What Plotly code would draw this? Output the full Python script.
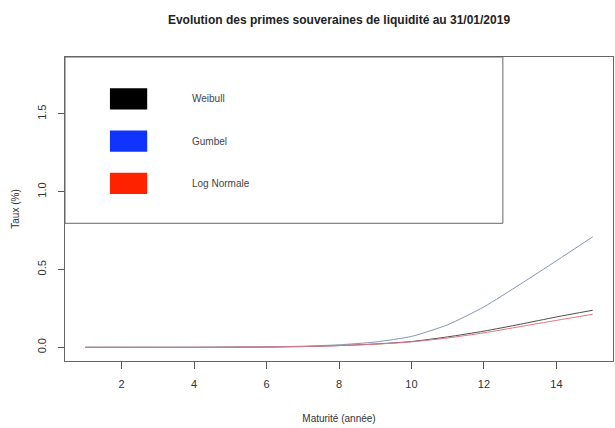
import plotly.graph_objects as go

# ---- data ----
maturite = [1, 2, 3, 4, 5, 6, 7, 8, 9, 10, 11, 12, 13, 14, 15]
weibull = [0.0, 0.0, 0.0, 0.0, 0.001, 0.002, 0.005, 0.011, 0.021, 0.037, 0.067, 0.104, 0.148, 0.195, 0.238]
gumbel = [0.0, 0.0, 0.0, 0.0, 0.001, 0.003, 0.007, 0.016, 0.034, 0.070, 0.145, 0.260, 0.405, 0.556, 0.710]
lognormale = [0.0, 0.0, 0.0, 0.0, 0.001, 0.002, 0.005, 0.011, 0.020, 0.035, 0.060, 0.093, 0.133, 0.173, 0.212]

series_names = ["Weibull", "Gumbel", "Log Normale"]
series_values = [weibull, gumbel, lognormale]
line_colors = ["#4d4d4d", "#8494b4", "#e27585"]
legend_colors = ["#000000", "#1133ff", "#ff2200"]

x_ticks = [2, 4, 6, 8, 10, 12, 14]
y_ticks = [0.0, 0.5, 1.0, 1.5]

title_text = "Evolution des primes souveraines de liquidité au 31/01/2019"
x_title = "Maturité (année)"
y_title = "Taux (%)"

FONT = "Liberation Sans, Arial, sans-serif"
TXT = "#333333"

fig = go.Figure()
for name, vals, col in zip(series_names, series_values, line_colors):
    fig.add_trace(go.Scatter(
        x=maturite, y=vals, name=name, mode="lines",
        line=dict(color=col, width=1, shape="spline", smoothing=0.6),
        showlegend=False,
    ))

# ---- R-style legend box (top-left, filled swatches) ----
shapes = [dict(type="rect", xref="paper", yref="paper",
               x0=0, x1=0.799, y0=0.453, y1=1.0,
               line=dict(color="#666666", width=1), fillcolor="rgba(0,0,0,0)")]
annotations = []
row_top = 0.862
row_gap = 0.139
for i, (name, col) in enumerate(zip(series_names, legend_colors)):
    yc = row_top - i * row_gap
    shapes.append(dict(type="rect", xref="paper", yref="paper",
                       x0=0.082, x1=0.150, y0=yc - 0.035, y1=yc + 0.035,
                       line=dict(width=0), fillcolor=col))
    annotations.append(dict(xref="paper", yref="paper", x=0.229, y=yc,
                            text=name, showarrow=False, xanchor="left",
                            yanchor="middle",
                            font=dict(family=FONT, size=10, color="#444444")))

fig.update_layout(
    width=615, height=428,
    margin=dict(l=65, r=2, t=57, b=67),
    paper_bgcolor="white", plot_bgcolor="white",
    font=dict(family=FONT, color=TXT, size=11),
    title=dict(text="<b>" + title_text + "</b>", x=0.5, xref="paper",
               y=1 - 20 / 428, yref="container", yanchor="middle",
               font=dict(family=FONT, size=12, color="#222222")),
    shapes=shapes,
    annotations=annotations,
    showlegend=False,
)

fig.update_xaxes(
    range=[0.44, 15.56], tickvals=x_ticks, ticktext=[str(v) for v in x_ticks],
    ticks="outside", ticklen=7, tickcolor="#555555", tickwidth=1,
    showline=True, linecolor="#666666", linewidth=1, mirror=True,
    showgrid=False, zeroline=False, ticklabelstandoff=6,
    tickfont=dict(family=FONT, size=11, color=TXT),
    title=dict(text=x_title, standoff=25, font=dict(family=FONT, size=10, color=TXT)),
)
fig.update_yaxes(
    range=[-0.088, 1.865], tickvals=y_ticks, tickformat=".1f",
    tickangle=-90,
    ticks="outside", ticklen=6, tickcolor="#555555", tickwidth=1,
    showline=True, linecolor="#666666", linewidth=1, mirror=True,
    showgrid=False, zeroline=False, ticklabelstandoff=8,
    tickfont=dict(family=FONT, size=11, color=TXT),
    title=dict(text=y_title, standoff=14, font=dict(family=FONT, size=10, color=TXT)),
)

fig.write_html("out.html")
